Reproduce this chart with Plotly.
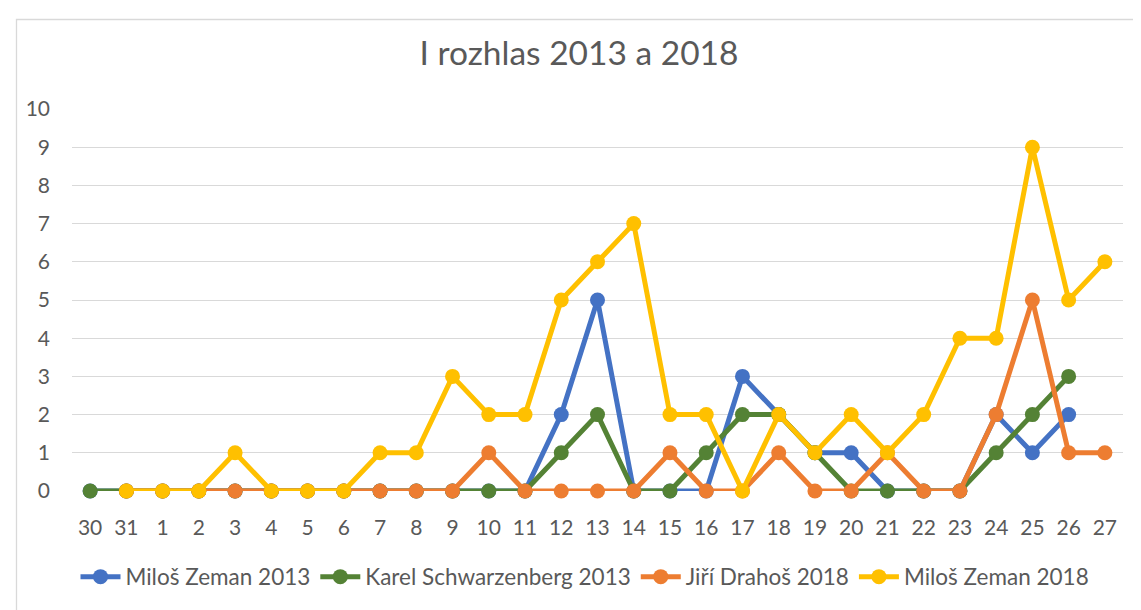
import plotly.graph_objects as go

categories = ["30", "31"] + [str(d) for d in range(1, 28)]

zeman_2013 = [0, 0, 0, 0, 0, 0, 0, 0, 0, 0, 0, 0, 0, 2, 5, 0, 0, 0, 3, 2, 1, 1, 0, 0, 0, 2, 1, 2]
schwarzenberg_2013 = [0, 0, 0, 0, 0, 0, 0, 0, 0, 0, 0, 0, 0, 1, 2, 0, 0, 1, 2, 2, 1, 0, 0, 0, 0, 1, 2, 3]
drahos_2018 = [None, 0, 0, 0, 0, 0, 0, 0, 0, 0, 0, 1, 0, 0, 0, 0, 1, 0, 0, 1, 0, 0, 1, 0, 0, 2, 5, 1, 1]
zeman_2018 = [None, 0, 0, 0, 1, 0, 0, 0, 1, 1, 3, 2, 2, 5, 6, 7, 2, 2, 0, 2, 1, 2, 1, 2, 4, 4, 9, 5, 6]

series = [
    ("Miloš Zeman 2013", zeman_2013, "#4472C4"),
    ("Karel Schwarzenberg 2013", schwarzenberg_2013, "#548235"),
    ("Jiří Drahoš 2018", drahos_2018, "#ED7D31"),
    ("Miloš Zeman 2018", zeman_2018, "#FFC000"),
]

fig = go.Figure()
for name, vals, color in series:
    fig.add_trace(go.Scatter(
        x=categories[:len(vals)], y=vals, name=name, mode="lines+markers",
        line=dict(color=color, width=5),
        marker=dict(color=color, size=15),
        cliponaxis=False,
    ))

# the page body adds an 8px offset; positions below are in figure pixels
OFF = 8
W, H = 1141 - OFF, 610 - OFF
L, R, T, B = 72 - OFF, 1123 - OFF, 109 - OFF, 491 - OFF
pw, ph = R - L, B - T

def px(x):
    return (x - L) / pw

def py(y):
    return (B - y) / ph

fig.update_layout(
    width=W, height=H,
    margin=dict(l=L, r=W - R, t=T, b=H - B),
    paper_bgcolor="white", plot_bgcolor="white",
    font=dict(family="Lato, 'Open Sans', sans-serif", color="#595959", size=21),
    title=dict(text="I rozhlas 2013 a 2018", x=(579 - OFF) / W, xref="container", xanchor="center",
               y=1 - (53 - OFF) / H, yref="container", yanchor="middle",
               font=dict(size=33.5, color="#595959")),
    xaxis=dict(type="category", categoryorder="array", categoryarray=categories,
               range=[-0.5, len(categories) - 0.5], showgrid=False, zeroline=False,
               showline=False, ticks="", ticklabelstandoff=22,
               tickfont=dict(size=21, color="#595959")),
    yaxis=dict(range=[0, 10], dtick=1, showgrid=True, gridcolor="#D9D9D9", gridwidth=1.3,
               zeroline=False, showline=False, ticks="", ticklabelstandoff=21,
               tickfont=dict(size=21, color="#595959")),
    legend=dict(orientation="h", x=(585 - OFF) / W, xref="container", xanchor="center",
                y=1 - (577 - OFF) / H, yref="container", yanchor="middle",
                font=dict(size=22.5, color="#595959"), itemwidth=40, tracegroupgap=0),
    showlegend=True,
)

fig.add_shape(type="rect", xref="paper", yref="paper",
              x0=px(8.5), x1=px(1150), y0=py(11.5), y1=py(620),
              line=dict(color="#D9D9D9", width=1.3), fillcolor="rgba(0,0,0,0)", layer="below")

fig.write_html("out.html")
